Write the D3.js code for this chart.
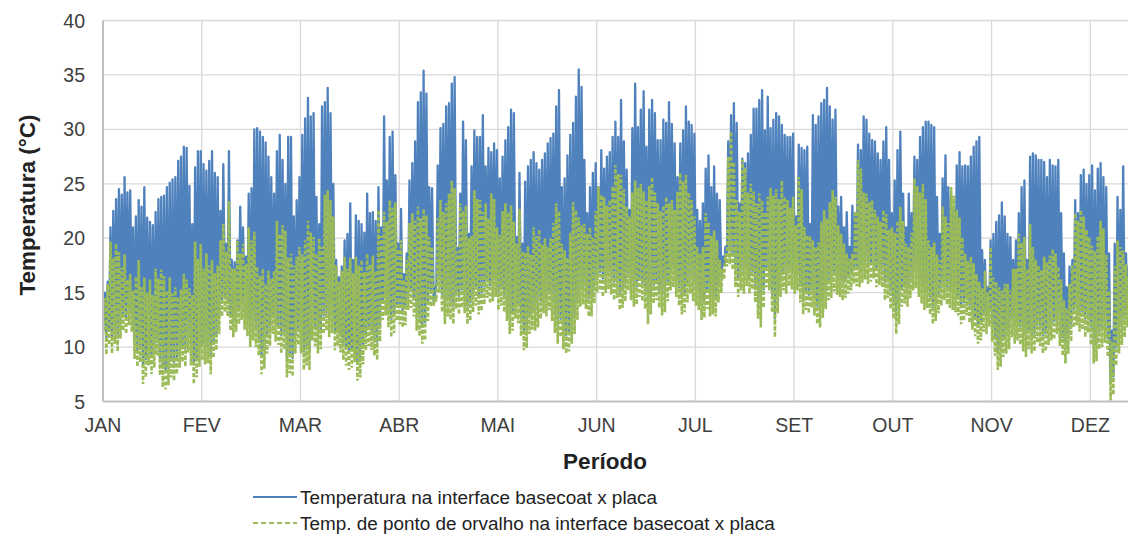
<!DOCTYPE html>
<html><head><meta charset="utf-8">
<script src="https://cdn.jsdelivr.net/npm/d3@7"></script>
<style>html,body{margin:0;padding:0;background:#fff;} svg{display:block;font-family:"Liberation Sans",Arial,sans-serif;}</style>
</head><body>
<svg id="chart" width="1128" height="538"></svg>
<script>
// ---- data (daily extremes) ----
const monthLabels = ["JAN","FEV","MAR","ABR","MAI","JUN","JUL","SET","OUT","NOV","DEZ"];
const yTicks = [5,10,15,20,25,30,35,40];
const tickStepDays = 35;
const seriesNames = ["Temperatura na interface basecoat x placa","Temp. de ponto de orvalho na interface basecoat x placa"];

const blueMax = [
15,16,21,22.5,23.6,24.5,24,25.6,24.2,24.4,
21,22,23.5,22.9,24.7,21.9,21.5,21.2,22.4,23.6,
23.8,23.9,24.7,25.1,25.4,25.6,27.1,27.5,28.4,28.3,
24.8,21.3,26.5,28,28,26.8,26.2,27.1,28,26,
25.6,22.5,26.8,19.5,28,18,17.8,19.8,22.9,21,
18.3,24.1,24.6,30,30.1,29.8,29.3,28.8,27.5,25.6,
24.1,28,29.5,27.2,25,29.3,29.3,22,23.5,25.6,
29.5,31,32.9,31.2,31.5,23.8,21.3,32.1,32.5,33.8,
31.5,25,18,16.4,17.4,19.8,20.4,23.2,18,22.1,
21.6,21.3,20.5,24.1,22.3,22.4,21.6,24.7,21,31.2,
25.3,29.3,29.8,25.8,19.5,22.7,16.7,18.6,25.3,26.9,
28.9,32.5,33.4,35.4,33.3,24.7,24.6,14.9,26.7,30.1,
30.5,32.1,32.4,34.2,34.8,19.1,24.1,30.7,29,20.4,
26.6,29.9,29.3,29.3,31.3,26.6,28.3,27.9,28.7,28.1,
25.5,27.5,29,30.2,31.8,31.5,20.1,26,19.5,25.2,
26.6,27.2,27.9,26.9,26.3,27.2,27.8,28.7,29.2,29.6,
32.1,33.6,24.7,25.5,27.6,29.5,30.6,33,35.5,33.9,
27.2,22.3,24.7,26,26.9,24.7,28.1,26.4,27.5,27.9,
29.3,30.7,29.3,32.7,28.9,26.3,22.6,30.1,34.2,30.2,
31.8,33.5,28.4,31.8,32.7,31.5,29,29,30.9,30.6,
32.5,30.5,28.7,25.6,28.7,29.9,32.1,30.7,30.4,29.6,
22.6,21.6,23.2,26.4,27.6,24.7,26.6,24.1,23.5,18.3,
19.2,28.9,31.3,32.4,30.6,23.2,27.3,26.9,27.8,29.5,
31.9,31.9,32.7,33.6,29.9,33,30.1,30.9,31.5,31.2,
30.4,29.5,29.3,29.3,29.6,22,28.6,28.3,28.1,28.4,
21.3,31.3,30.4,31.2,32.4,32.7,33.8,32.1,30.9,31.8,
22.9,23.8,21,22.4,19.2,23,22,28.6,28.1,31.2,
30.9,29.6,29,28.9,27.8,27.2,28.9,30.2,27.2,22.3,
25.3,28.1,29.8,24.1,21,24.1,22.3,27.5,27.2,29.3,
30.2,30.7,30.7,30.4,30.2,23.8,20.4,25.5,27.6,24.7,
24.1,22.9,26.7,27.9,26.6,26.7,26.6,27.5,28.4,28.9,
29.3,18.9,18,15.5,19.8,20.4,21.5,22.1,23.3,22,
20.4,20.1,18,19.8,22.3,24.7,25.3,18,27.5,27.8,
27.6,27.2,27.2,27,25.6,27.2,26.7,26.6,27.2,22.3,
18.6,15.5,17.4,18,23.5,22.3,25.8,26.3,25,25.8,
26.7,24.4,26.4,26.9,25.6,24.7,18.6,11.5,19.5,23.8,
22.6,26.6,18.6,17.4,17];

const blueMin = [
12,10.8,11.5,11,11.6,11.2,12.1,13,12.8,13.4,
13,10.5,9.8,10.2,8.3,8.9,9.8,9.2,9.8,10.6,
9,8.2,7.9,8.1,8.8,8.6,9.1,9.6,10.1,9.9,
11,10,8.4,9,9.8,10.3,10,10.1,9.2,10.4,
11.3,12.8,14.4,14.6,14.3,13,12.4,13,13.6,14,
13.2,12.6,11.7,12.2,11.6,10.8,9.2,9.7,11,11.8,
12.8,12.2,11.8,11.1,11.5,8.9,9.3,9,11.1,11.8,
11,9.6,10,9.6,12.2,11.7,11,11.5,12.9,13.2,
12.6,12.9,11.3,11.7,11.1,10.4,10,9.6,9.8,10.3,
8.6,8.9,10.1,11.3,11.7,11.4,10.8,10.5,12.1,14.1,
14.5,13.5,12.6,13,14,13.7,13.4,13.6,15,15.2,
14.5,13.2,12.7,12,12.3,14,15.3,14.2,15.8,16.6,
14.9,13.8,14.5,14.2,13.8,15,14.7,15.3,14.8,13.8,
14.1,14.9,15.5,14.7,15,15.6,16.1,15.7,15.9,16.2,
15.1,15.5,14.9,14.1,12.9,13.2,14.3,13.9,12.7,11.4,
11.6,12.9,13.3,13.2,13.5,14.3,14.8,14.5,15.1,14.1,
13,12,12.6,11.5,11.1,11.3,12,12.9,14.2,15.4,
15.6,15.2,14.5,14.5,15.7,16.6,16.9,16.3,16.7,17,
16.5,16,16.2,15.1,15.3,15.9,16.9,16,15.4,15.6,
16.3,15.9,15.2,13.8,14.7,15.7,16,15.3,14.6,14.9,
15.9,16.9,17.2,16.3,15.5,14.7,14.9,15.8,16.6,15.9,
15.5,15.1,14.2,14.4,15.2,14.5,14.7,14.5,15.8,16.5,
17.5,18.6,18.9,18.5,17.2,16.3,16.9,16.6,17.3,16.6,
17,15.8,14.3,13.5,15.3,17.2,16.9,14.9,12.6,14.8,
16.3,16.9,16.6,17.3,17,16.6,16.9,15.8,14.7,15.1,
14.8,15.3,14.6,13.8,13.5,14.4,15.2,16,16.2,16.8,
16.5,16.3,16,16.2,16.4,16.7,17.3,17.3,17.2,17.6,
17.9,17.5,17.7,18,17.2,17.4,17.2,16,16.2,15.2,
14.3,12.9,13.8,15.4,15.7,15.4,16.2,16.9,17.1,16.3,
15.7,15.1,15.3,14.7,13.8,14.1,14.8,15.5,16,15.6,
15.3,15.1,14.9,14.6,13.8,14.1,14.6,13.9,13.3,12.7,
12,12.3,13.1,12.9,13.6,12.2,10.9,9.6,9.9,10.8,
11.1,11.5,12.6,12,12.3,11.9,11.3,10.8,11.5,11.1,
11.3,12.1,11.8,11.1,11.3,11.9,12.3,12.4,12.9,11.8,
10.9,10.2,11.1,12.2,13.5,13.7,13.1,13.3,12.6,13,
11.9,10.2,10.4,11.5,11.7,12.1,10.8,6.8,7.3,10,
11.1,11.9,12.6,13.5,14.2];

const dewMax = [
14.5,15.8,19.7,18.2,19.5,18.7,17.3,18.5,16.2,16.7,
15.2,16.5,18,15.5,16.4,15,16.2,14.8,17.2,16.3,
17.1,16.5,15.2,16.4,14.9,15.5,14.6,15.3,16.7,16.2,
15.4,14.8,19.7,18.1,19.5,17.2,18.6,17.5,18,16.8,
17.5,19.8,21.3,18.8,23.4,17.2,17.2,19.8,18.6,19.5,
17.6,21,19.8,20.6,17.4,16.5,17.2,15.8,17,16.3,
17,21.6,20.4,21.2,20.7,18.2,18.6,17.5,18.3,19.2,
18.5,19.8,21.6,20.5,20.1,18.6,20,19.2,24,24.4,
23.5,22,17.5,16,17,18.3,17.2,18.2,16.8,18.3,
17.5,18,16.9,18.6,17.6,18.4,17,22.6,20.2,22.4,
21.5,23.5,22.8,23.3,19,19.8,16.2,18,21.4,22.3,
21.6,22.9,21.8,22.7,22.1,20.1,19.2,14.5,21.8,23.5,
22.4,23.2,24.1,25.3,24.6,18.8,23.2,22.5,23,20,
20.2,24.4,23.6,23.5,22.4,23.2,21.8,24.1,23.6,21,
20.3,22.5,23.2,22.4,23,21.5,19.5,22.7,18.8,18.7,
19.3,18.5,21,20.2,20.8,19.4,20,19.2,20,21.4,
23.2,22.5,19.5,18.9,18.2,20.5,23.3,22.6,21.9,21.2,
21.3,20.4,21,20.1,22.5,24.7,24,23.8,23,23.5,
24.8,26.7,25.9,25.8,24.5,22.9,22,24.2,25.3,24.6,
25,24.3,23.5,24.8,25.6,24.2,23.2,22.5,23,23.8,
23.2,23.5,22.6,24.3,26,25.2,25.8,24.2,23.5,22,
19.2,18.6,19.2,22.3,21.5,20.2,20.7,19.8,18,17.2,
18.6,27.5,29.8,27,23.5,22.4,27.2,26.5,24.2,25,
24.3,23.2,24.1,23.5,22.4,23.8,24.6,23.9,24.5,23.6,
25.3,23.8,23.5,22.8,23.8,21.2,25.6,24.5,21,20.3,
20.2,19.8,19.2,19.6,21.5,22.6,21.8,23.3,24.4,23.8,
21.2,20.4,19.5,18.6,18.1,18.6,22.5,27.2,26.4,24.2,
24.1,23.3,23.5,22.6,22,21.5,22.6,22.2,20.8,21,
20.5,21.6,22.9,21.6,19.5,19.2,20.5,25.5,24.8,24.2,
25,23.6,19.8,19.2,19.6,18.5,18,22.9,22,21.4,
24.7,23.9,22.6,21.9,20.1,18.6,17.9,18.3,17.7,16.7,
16,15.4,17,15,19.2,16.4,16,15.5,15.2,15.8,
15.8,15.2,17.2,17.2,20.4,19.6,20.1,17.2,21.3,19.2,
18,17.5,17.1,18.3,17.8,18.4,19,18.6,17.4,16.2,
14.3,13.6,15.8,17.5,22.3,21.6,22.6,22,20.8,20.1,
19.3,18.8,20.2,21.6,20.9,18.5,15.2,10.5,17.4,19.8,
19.2,18.9,17.6,16.4,15.5];

const dewMin = [
11.5,9.3,10.2,9.4,10.3,9.6,10.8,11.5,11.2,12,
11.4,8.9,8.2,8.6,6.6,7.2,8.3,7.5,8.1,9.2,
7.4,6.3,6.1,6.5,7.2,6.9,7.5,8.1,8.6,8.2,
9.5,8.3,6.6,7.2,8.2,8.8,8.4,8.5,7.5,9,
9.7,11.2,12.8,13.2,12.8,11.5,10.9,11.4,12.1,12.5,
11.6,11,10,10.6,10,9.2,7.5,8,9.4,10.1,
11.2,10.5,10.2,9.4,9.8,7.2,7.6,7.3,9.4,10.2,
9.4,7.9,8.3,7.9,10.6,10.1,9.4,9.8,11.2,11.5,
10.9,11.3,9.7,10.1,9.5,8.8,8.3,7.9,8.1,8.6,
6.9,7.2,8.4,9.7,10.1,9.7,9.2,8.8,10.5,12.5,
12.9,11.8,10.9,11.3,12.4,12.1,11.8,12,13.4,13.6,
12.8,11.5,11,10.3,10.6,12.4,13.7,13.8,14.2,15,
13.2,12.1,12.8,12.5,12.1,13.5,13,13.6,13.1,12.1,
12.4,13.2,13.8,13,13.3,13.9,14.5,14,14.2,14.6,
13.4,13.8,13.2,12.4,11.2,11.5,12.6,12.2,11,9.7,
9.9,11.2,11.6,11.5,11.8,12.6,13.1,12.8,13.4,12.4,
11.3,10.3,10.9,9.8,9.4,9.6,10.3,11.2,12.5,13.7,
13.9,13.5,12.8,12.8,14,15,15.2,14.6,15,15.3,
14.8,14.3,14.5,13.4,13.6,14.2,15.2,14.3,13.7,13.9,
14.6,14.2,13.5,12.1,13,14,14.3,13.6,12.9,13.2,
14.2,15.2,15.5,14.6,13.8,13,13.2,14.1,14.9,14.2,
13.8,13.4,12.5,12.7,13.5,12.8,13,12.8,14.1,15,
16.2,17.4,17.6,17.1,15.5,14.6,15.2,14.9,15.6,14.9,
15.3,14.1,12.6,11.8,13.6,15.5,15.2,13.2,10.9,13.1,
14.6,15.2,14.9,15.6,15.3,14.9,15.2,14.1,13,13.4,
13.1,13.6,12.9,12.1,11.8,12.7,13.5,14.3,14.5,15.1,
14.8,14.6,14.3,14.5,14.9,15.2,15.8,15.6,15.5,15.9,
16.2,15.8,16,16.3,15.5,15.7,15.5,14.3,14.5,13.5,
12.6,11.2,12.1,13.7,14,13.7,14.5,15.2,15.4,14.6,
14,13.4,13.6,13,12.1,12.4,13.1,13.8,14.3,13.9,
13.6,13.4,13.2,12.9,12.1,12.4,12.9,12.2,11.6,11,
10.3,10.6,11.4,11.2,11.9,10.5,9.2,7.9,8.2,9.1,
9.4,9.8,10.9,10.3,10.6,10.2,9.6,9.1,9.8,9.4,
9.6,10.4,10.1,9.4,9.6,10.2,10.6,10.7,11.2,10.1,
9.2,8.5,9.4,10.5,11.8,12,11.4,11.6,10.9,11.3,
10.2,8.5,8.7,9.8,10,10.4,9.1,5.1,5.6,8.3,
9.4,10.2,10.9,11.8,12.5];

// ---- layout ----
const svg = d3.select("#chart");
const plotLeft = 103, plotTop = 20.5, plotBottom = 401.5, plotRight = 1132;
const pxPerDay = 98.73 / tickStepDays;
const nDays = blueMax.length;
const x = d3.scaleLinear().domain([0, nDays]).range([plotLeft, plotLeft + nDays * pxPerDay]);
const y = d3.scaleLinear().domain([5, 40]).range([plotBottom, plotTop]);

const gridColor = "#D9D9D9", axisColor = "#BFBFBF";
const blueColor = "#4F81BD", greenColor = "#9BBB59";

svg.append("defs").append("clipPath").attr("id","clip")
  .append("rect").attr("x", plotLeft).attr("y", plotTop - 1)
  .attr("width", plotRight - plotLeft).attr("height", plotBottom - plotTop + 1);

// gridlines
const tickDays = monthLabels.map((m,i) => i * tickStepDays);
svg.append("g").selectAll("line").data(yTicks.filter(t => t > 5)).join("line")
  .attr("x1", plotLeft).attr("x2", plotRight).attr("y1", d => y(d)).attr("y2", d => y(d))
  .attr("stroke", gridColor).attr("stroke-width", 1.3);
svg.append("g").selectAll("line").data(tickDays.slice(1)).join("line")
  .attr("x1", d => x(d)).attr("x2", d => x(d)).attr("y1", plotTop).attr("y2", plotBottom)
  .attr("stroke", gridColor).attr("stroke-width", 1.3);

// series
function zigzag(mins, maxs) {
  const pts = [];
  mins.forEach((mn, i) => { pts.push([i + 0.2, mn]); pts.push([i + 0.65, maxs[i]]); });
  return pts;
}
const lineGen = d3.line().x(d => x(d[0])).y(d => y(d[1]));
const plot = svg.append("g").attr("clip-path", "url(#clip)");
plot.append("path").attr("d", lineGen(zigzag(blueMin, blueMax)))
  .attr("fill", "none").attr("stroke", blueColor).attr("stroke-width", 2.3).attr("stroke-linejoin", "round");
plot.append("path").attr("d", lineGen(zigzag(dewMin, dewMax)))
  .attr("fill", "none").attr("stroke", greenColor).attr("stroke-width", 2.6)
  .attr("stroke-dasharray", "4,2");

// axis lines
svg.append("line").attr("x1", plotLeft).attr("x2", plotLeft).attr("y1", plotTop).attr("y2", plotBottom)
  .attr("stroke", axisColor).attr("stroke-width", 2);
svg.append("line").attr("x1", plotLeft).attr("x2", plotRight).attr("y1", plotBottom).attr("y2", plotBottom)
  .attr("stroke", axisColor).attr("stroke-width", 2);

// y tick labels
svg.append("g").selectAll("text").data(yTicks).join("text")
  .attr("x", 85).attr("y", d => y(d)).attr("dy", "0.36em")
  .attr("text-anchor", "end").attr("font-size", "19.5px").attr("fill", "#404040")
  .text(d => d);

// x tick labels
svg.append("g").selectAll("text").data(monthLabels).join("text")
  .attr("x", (d,i) => x(tickDays[i])).attr("y", 432)
  .attr("text-anchor", "middle").attr("font-size", "19.5px").attr("fill", "#404040")
  .text(d => d);

// axis titles
svg.append("text").attr("transform", "translate(35,205) rotate(-90)")
  .attr("text-anchor", "middle").attr("font-size", "22.5px").attr("font-weight", "bold").attr("fill", "#222")
  .text("Temperatura (°C)");
svg.append("text").attr("x", 605).attr("y", 469)
  .attr("text-anchor", "middle").attr("font-size", "22.5px").attr("font-weight", "bold").attr("fill", "#222")
  .text("Período");

// legend
const leg = svg.append("g");
const legY = [497, 523];
leg.append("line").attr("x1", 253).attr("x2", 297).attr("y1", legY[0]).attr("y2", legY[0])
  .attr("stroke", blueColor).attr("stroke-width", 2);
leg.append("line").attr("x1", 253).attr("x2", 297).attr("y1", legY[1]).attr("y2", legY[1])
  .attr("stroke", greenColor).attr("stroke-width", 2).attr("stroke-dasharray", "5,3");
seriesNames.forEach((s, i) => {
  leg.append("text").attr("x", 300).attr("y", legY[i]).attr("dy", "0.36em")
    .attr("font-size", "18.9px").attr("fill", "#222").text(s);
});
</script>
</body></html>
